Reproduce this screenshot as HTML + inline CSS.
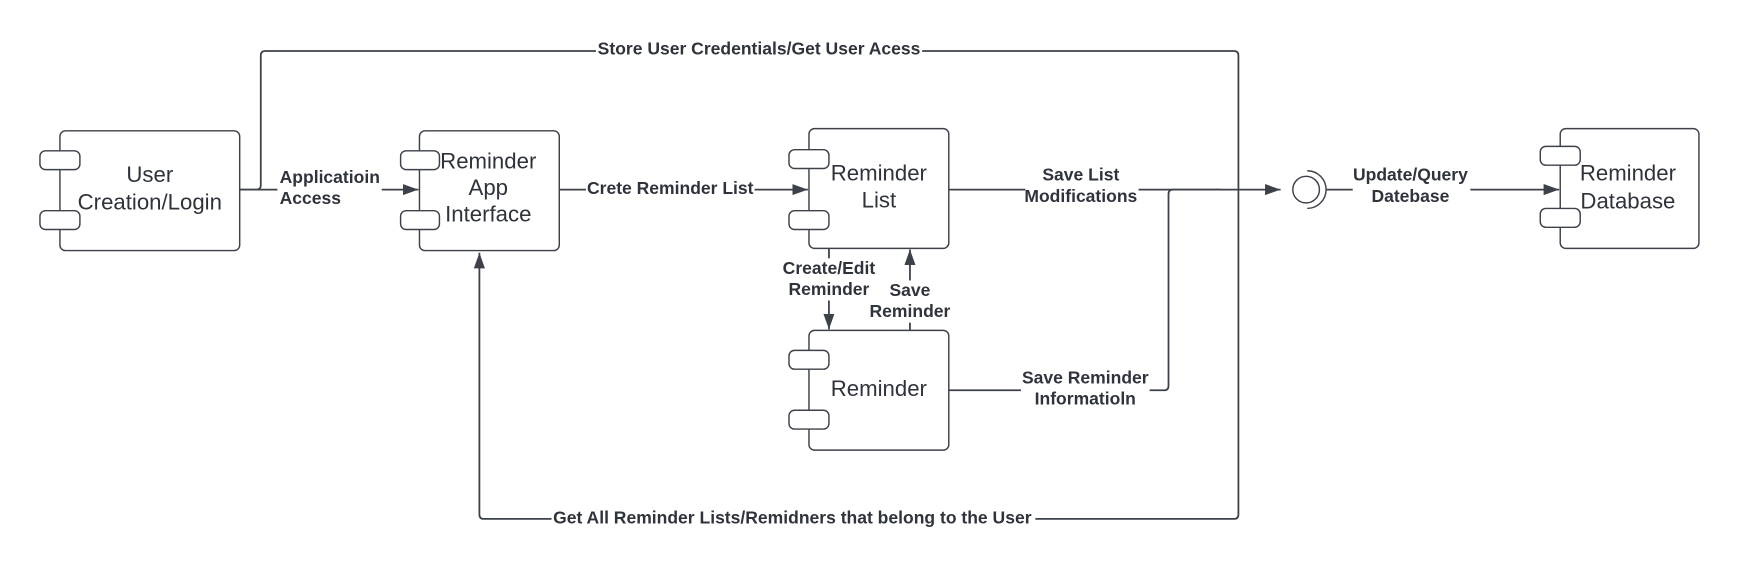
<!DOCTYPE html>
<html><head><meta charset="utf-8"><style>
html,body{margin:0;padding:0;background:#fff;}
svg{display:block;}
.b{fill:#fff;stroke:#3d414a;stroke-width:1.3;}
.l{fill:none;stroke:#3d414a;stroke-width:1.6;}
.t{font-family:"Liberation Sans",sans-serif;font-size:20px;fill:#2f333b;text-anchor:middle;}
.lb{font-family:"Liberation Sans",sans-serif;font-size:15.8px;font-weight:bold;fill:#2f333b;text-anchor:middle;}
.bg{fill:#fff;}
</style></head><body>
<svg width="1740" height="571" viewBox="0 0 1568 515" preserveAspectRatio="none" xmlns="http://www.w3.org/2000/svg">
<defs><marker id="a" markerWidth="14" markerHeight="10" refX="14" refY="5" orient="auto" markerUnits="userSpaceOnUse"><path d="M0,0 L14,5 L0,10 z" fill="#3d414a"/></marker></defs>

<path class="l" d="M216,171 H231 Q235,171 235,167 V50 Q235,46 239,46 H1112 Q1116,46 1116,50 V464 Q1116,468 1112,468 H436 Q432,468 432,464 V228" marker-end="url(#a)"/>
<path class="l" d="M216,171 H377" marker-end="url(#a)"/>
<path class="l" d="M504,171 H728" marker-end="url(#a)"/>
<path class="l" d="M855,171 H1154" marker-end="url(#a)"/>
<path class="l" d="M855,352 H1049 Q1053,352 1053,348 V175 Q1053,171 1057,171 H1100"/>
<path class="l" d="M747,224 V297" marker-end="url(#a)"/>
<path class="l" d="M820,298 V225" marker-end="url(#a)"/>
<path class="l" d="M1195,171 H1405" marker-end="url(#a)"/>
<circle cx="1177" cy="171" r="12" class="b"/>
<path d="M1178,154 A17,17 0 0 1 1178,188" fill="none" stroke="#3d414a" stroke-width="1.3"/>

<rect class="bg" x="537" y="36" width="294" height="17"/>
<text class="lb" x="684" y="49">Store User Credentials/Get User Acess</text>
<rect class="bg" x="497" y="459" width="436" height="17"/>
<text class="lb" x="714" y="472">Get All Reminder Lists/Remidners that belong to the User</text>
<rect class="bg" x="250" y="150" width="94" height="38"/>
<text class="lb" x="252" y="165" style="text-anchor:start">Applicatioin</text>
<text class="lb" x="252" y="184" style="text-anchor:start">Access</text>
<rect class="bg" x="528" y="162" width="152" height="16"/>
<text class="lb" x="604" y="175">Crete Reminder List</text>
<rect class="bg" x="924" y="149" width="102" height="38"/>
<text class="lb" x="974" y="163">Save List</text>
<text class="lb" x="974" y="182">Modifications</text>
<rect class="bg" x="920" y="332" width="116" height="38"/>
<text class="lb" x="978" y="346">Save Reminder</text>
<text class="lb" x="978" y="365">Informatioln</text>
<rect class="bg" x="786" y="253" width="72" height="38"/>
<rect class="bg" x="704" y="233" width="80" height="38"/>
<text class="lb" x="747" y="247">Create/Edit</text>
<text class="lb" x="747" y="266">Reminder</text>
<text class="lb" x="820" y="267">Save</text>
<text class="lb" x="820" y="286">Reminder</text>
<rect class="bg" x="1219" y="149" width="106" height="38"/>
<text class="lb" x="1271" y="163">Update/Query</text>
<text class="lb" x="1271" y="182">Datebase</text>

<g>
<rect class="b" x="54" y="118" width="162" height="108" rx="5"/>
<rect class="b" x="36" y="136" width="36" height="17" rx="5"/>
<rect class="b" x="36" y="190" width="36" height="17" rx="5"/>
<text class="t" x="135" y="164">User</text>
<text class="t" x="135" y="189">Creation/Login</text>
</g>
<g>
<rect class="b" x="378" y="118" width="126" height="108" rx="5"/>
<rect class="b" x="361" y="136" width="35" height="17" rx="5"/>
<rect class="b" x="361" y="190" width="35" height="17" rx="5"/>
<text class="t" x="440" y="152">Reminder</text>
<text class="t" x="440" y="176">App</text>
<text class="t" x="440" y="200">Interface</text>
</g>
<g>
<rect class="b" x="729" y="116" width="126" height="108" rx="5"/>
<rect class="b" x="711" y="135" width="36" height="17" rx="5"/>
<rect class="b" x="711" y="190" width="36" height="17" rx="5"/>
<text class="t" x="792" y="163">Reminder</text>
<text class="t" x="792" y="187">List</text>
</g>
<g>
<rect class="b" x="729" y="298" width="126" height="108" rx="5"/>
<rect class="b" x="711" y="316" width="36" height="17" rx="5"/>
<rect class="b" x="711" y="370" width="36" height="17" rx="5"/>
<text class="t" x="792" y="357">Reminder</text>
</g>
<g>
<rect class="b" x="1406" y="116" width="125" height="108" rx="5"/>
<rect class="b" x="1388" y="132" width="36" height="17" rx="5"/>
<rect class="b" x="1388" y="188" width="36" height="17" rx="5"/>
<text class="t" x="1467" y="163">Reminder</text>
<text class="t" x="1467" y="188">Database</text>
</g>
</svg>
</body></html>
